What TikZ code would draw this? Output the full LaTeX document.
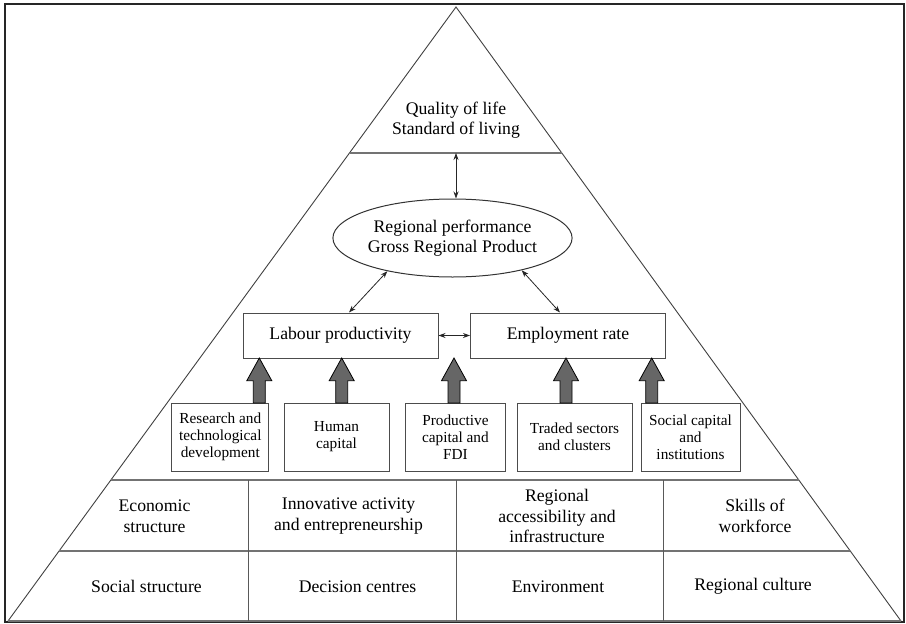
\documentclass[tikz,border=0pt]{standalone}
\usepackage{fontspec}
\setmainfont{Liberation Serif}
\usetikzlibrary{shapes.geometric,arrows.meta}
\begin{document}
\begin{tikzpicture}[x=1pt,y=-1pt,
  edge/.style={draw=black!75, line width=0.9pt},
  sep/.style={draw=black!55, line width=1.6pt},
  divider/.style={draw=black!65, line width=1pt},
  bigbox/.style={draw=black!70, line width=1pt, minimum width=195pt, minimum height=45pt, inner sep=0pt, font=\fontsize{17.7}{21}\selectfont},
  smallbox/.style={draw=black!70, line width=1pt, minimum height=68pt, inner sep=0pt, align=center, font=\fontsize{15.3}{17}\selectfont},
  cell/.style={align=center, font=\fontsize{17.7}{20.5}\selectfont},
  dbl/.style={{Stealth[length=7pt,width=5pt]}-{Stealth[length=7pt,width=5pt]}, line width=0.8pt, draw=black!85},
  blockarrow/.style={fill=black!60, draw=black, line width=0.8pt, line join=miter}
]
\useasboundingbox (0,0) rectangle (906,624);
% frame
\draw[line width=1.8pt, black!85] (5,4) rectangle (904,622);
% pyramid
\draw[edge] (8,621) -- (456,7) -- (901,621);
\draw[sep] (8,621) -- (901,621);
\draw[sep] (349.5,153) -- (561.8,153);
\draw[sep] (110.9,480) -- (798.8,480);
\draw[sep] (59.1,551) -- (850.3,551);
\draw[divider] (248,480) -- (248,621);
\draw[divider] (456,480) -- (456,621);
\draw[divider] (663,480) -- (663,621);

% top
\node[cell] (qol) at (456,120) {Quality of life\\Standard of living};
\coordinate (topline) at (456,153);

% ellipse
\node[ellipse, draw=black!80, line width=1pt, minimum width=229pt, minimum height=78pt, inner sep=0pt, align=center, font=\fontsize{17.7}{20}\selectfont] (grp) at (452.5,238) {Regional performance\\Gross Regional Product};

% main boxes
\node[bigbox] (lab) at (340.5,335.5) {Labour productivity};
\node[bigbox] (emp) at (568,335.5) {Employment rate};

\draw[dbl] (topline) -- (grp.north -| topline);
\draw[dbl] (grp.207) -- ([xshift=8.5pt]lab.north);
\draw[dbl] (grp.-25) -- ([xshift=-8pt]emp.north);
\draw[dbl] (lab.east) -- (emp.west);

% small boxes
\node[smallbox, minimum width=97.3pt] (rtd) at (220.3,437) {Research and\\technological\\development};
\node[smallbox, minimum width=105pt] (hc) at (336.5,437) {Human\\capital};
\node[smallbox, minimum width=99.3pt] (pc) at (455.4,437) {Productive\\capital and\\FDI};
\node[smallbox, minimum width=115pt] (ts) at (574.5,437) {Traded sectors\\and clusters};
\node[smallbox, minimum width=99pt] (sc) at (690.5,437) {Social capital\\and\\institutions};

% block arrows
\foreach \n/\x in {rtd/259.3, hc/341.7, pc/454, ts/566, sc/651.7}{
  \coordinate (\n-a) at (\x,403);
  \draw[blockarrow] (\n-a) ++(-6,0) -- ++(0,-22.3) -- ++(-6.5,0) -- ++(12.5,-22.7) -- ++(12.5,22.7) -- ++(-6.5,0) -- ++(0,22.3) -- cycle;
}

% bottom cells
\node[cell] (econ) at (154.5,516) {Economic\\structure};
\node[cell] (innov) at (348.5,516) {Innovative activity\\and entrepreneurship};
\node[cell] (access) at (557,516) {Regional\\accessibility and\\infrastructure};
\node[cell] (skills) at (755,516) {Skills of\\workforce};
\node[cell] (social) at (146.5,586.5) {Social structure};
\node[cell] (dec) at (357.5,586.5) {Decision centres};
\node[cell] (env) at (558,586.5) {Environment};
\node[cell] (cult) at (753,586.5) {Regional culture};
\end{tikzpicture}
\end{document}
